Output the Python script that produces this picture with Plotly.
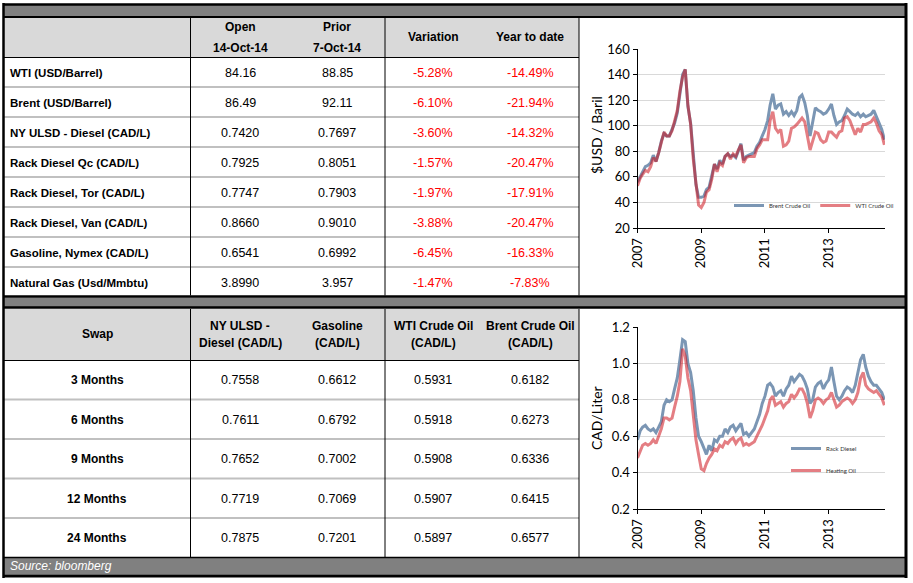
import plotly.graph_objects as go
import pandas as pd

W, H = 913, 583

# ---------------- DATA ----------------
top_header_cols = ["Open<br>14-Oct-14", "Prior<br>7-Oct-14", "Variation", "Year to date"]
top_labels = ["WTI (USD/Barrel)", "Brent (USD/Barrel)", "NY ULSD - Diesel (CAD/L)",
              "Rack Diesel Qc (CAD/L)", "Rack Diesel, Tor (CAD/L)", "Rack Diesel, Van (CAD/L)",
              "Gasoline, Nymex (CAD/L)", "Natural Gas (Usd/Mmbtu)"]
open_vals = ["84.16", "86.49", "0.7420", "0.7925", "0.7747", "0.8660", "0.6541", "3.8990"]
prior_vals = ["88.85", "92.11", "0.7697", "0.8051", "0.7903", "0.9010", "0.6992", "3.957"]
variation = ["-5.28%", "-6.10%", "-3.60%", "-1.57%", "-1.97%", "-3.88%", "-6.45%", "-1.47%"]
year_to_date = ["-14.49%", "-21.94%", "-14.32%", "-20.47%", "-17.91%", "-20.47%", "-16.33%", "-7.83%"]

swap_header_cols = ["Swap", "NY ULSD -<br>Diesel (CAD/L)", "Gasoline<br>(CAD/L)",
                    "WTI Crude Oil<br>(CAD/L)", "Brent Crude Oil<br>(CAD/L)"]
swap_tenors = ["3 Months", "6 Months", "9 Months", "12 Months", "24 Months"]
swap_ulsd = ["0.7558", "0.7611", "0.7652", "0.7719", "0.7875"]
swap_gasoline = ["0.6612", "0.6792", "0.7002", "0.7069", "0.7201"]
swap_wti = ["0.5931", "0.5918", "0.5908", "0.5907", "0.5897"]
swap_brent = ["0.6182", "0.6273", "0.6336", "0.6415", "0.6577"]

source_text = "Source: bloomberg"

months = pd.date_range("2007-01-01", "2014-10-01", freq="MS")

brent_usd = [56, 60, 64, 68, 69, 71, 77, 72, 79, 88, 94, 92,
             92, 97, 102, 110, 126, 140, 144, 115, 102, 76, 54, 44,
             44, 45, 50, 52, 60, 70, 66, 73, 70, 76, 78, 76,
             77, 75, 80, 86, 73, 76, 77, 78, 79, 84, 87, 92,
             97, 104, 116, 125, 113, 116, 117, 109, 111, 108, 111, 108,
             112, 122, 124, 118, 108, 92, 104, 114, 112, 111, 109, 110,
             113, 117, 108, 101, 103, 104, 108, 113, 111, 109, 108, 110,
             107, 109, 107, 108, 109, 112, 107, 102, 97, 89]
wti_usd = [53, 59, 62, 65, 64, 68, 75, 72, 79, 87, 95, 92,
           92, 96, 103, 112, 127, 138, 144, 116, 101, 74, 55, 38,
           36, 40, 48, 50, 58, 70, 64, 71, 69, 76, 78, 74,
           78, 76, 81, 85, 71, 75, 76, 76, 76, 82, 85, 89,
           89, 89, 104, 111, 98, 95, 97, 84, 85, 88, 98, 99,
           101, 104, 106, 103, 93, 81, 88, 95, 94, 89, 87, 88,
           95, 95, 93, 91, 95, 96, 106, 107, 104, 99, 93, 98,
           95, 101, 101, 102, 103, 106, 102, 96, 93, 85]

rack_diesel = [0.58, 0.63, 0.65, 0.66, 0.64, 0.63, 0.64, 0.62, 0.65, 0.68, 0.77, 0.80,
               0.79, 0.80, 0.86, 0.92, 1.02, 1.13, 1.12, 1.00, 0.95, 0.85, 0.70, 0.60,
               0.57, 0.53, 0.50, 0.55, 0.52, 0.58, 0.57, 0.60, 0.60, 0.64, 0.62, 0.65,
               0.66, 0.63, 0.65, 0.67, 0.61, 0.62, 0.60, 0.62, 0.64, 0.68, 0.72, 0.78,
               0.82, 0.88, 0.89, 0.87, 0.82, 0.84, 0.85, 0.82, 0.86, 0.88, 0.93, 0.90,
               0.92, 0.94, 0.93, 0.90, 0.86, 0.78, 0.80, 0.87, 0.89, 0.90, 0.86, 0.89,
               0.91, 0.98, 0.90, 0.82, 0.80, 0.82, 0.85, 0.87, 0.86, 0.84, 0.88, 0.96,
               1.02, 1.05, 0.98, 0.93, 0.90, 0.88, 0.88, 0.86, 0.84, 0.80]
heating_oil = [0.48, 0.52, 0.55, 0.56, 0.55, 0.56, 0.58, 0.56, 0.60, 0.64, 0.70, 0.70,
               0.69, 0.70, 0.76, 0.82, 0.90, 1.08, 1.04, 0.92, 0.85, 0.72, 0.58, 0.50,
               0.42, 0.41, 0.45, 0.48, 0.50, 0.53, 0.52, 0.55, 0.54, 0.57, 0.56, 0.58,
               0.59, 0.56, 0.58, 0.59, 0.55, 0.56, 0.55, 0.56, 0.57, 0.60, 0.63, 0.66,
               0.70, 0.74, 0.80, 0.82, 0.77, 0.78, 0.79, 0.76, 0.78, 0.79, 0.83, 0.81,
               0.83, 0.86, 0.86, 0.83, 0.78, 0.70, 0.74, 0.80, 0.81, 0.80, 0.78, 0.80,
               0.81, 0.84, 0.80, 0.76, 0.77, 0.79, 0.80, 0.81, 0.80, 0.78, 0.80, 0.84,
               0.92, 0.95, 0.88, 0.86, 0.85, 0.84, 0.85, 0.83, 0.81, 0.77]

# ---------------- STYLE / GEOMETRY ----------------
BLUE = "#7b96b4"
RED = "rgba(205,20,30,0.55)"
DARK_BAND = "#808080"
HEAD_FILL = "#d9d9d9"
SEP_GREY = "#c0c0c0"
TFONT = "Liberation Sans, Arial, sans-serif"
CFONT = "Lato, Noto Sans, sans-serif"

def X(px):
    return px / W

def Y(py):
    return 1 - py / H

shapes = []
annotations = []

def rect(x0, y0, x1, y1, color):
    shapes.append(dict(type="rect", xref="paper", yref="paper", x0=X(x0), x1=X(x1),
                       y0=Y(y1), y1=Y(y0), fillcolor=color, line=dict(width=0), layer="below"))

def hline(x0, x1, y, color, w):
    shapes.append(dict(type="line", xref="paper", yref="paper", x0=X(x0), x1=X(x1),
                       y0=Y(y), y1=Y(y), line=dict(color=color, width=w)))

def vline(x, y0, y1, color, w):
    shapes.append(dict(type="line", xref="paper", yref="paper", x0=X(x), x1=X(x),
                       y0=Y(y0), y1=Y(y1), line=dict(color=color, width=w)))

def text(x, y, s, size=12, color="black", anchor="center", italic=False):
    annotations.append(dict(xref="paper", yref="paper", x=X(x), y=Y(y), text=s,
                            showarrow=False, xanchor=anchor, yanchor="middle",
                            font=dict(family=TFONT, size=size, color=color,
                                      style="italic" if italic else "normal"),
                            align="center"))

L, R, TR = 4, 906, 579
col_edges = [L, 190.5, 385, TR]
val_centers = [240, 337, 433, 530]

# top band
rect(L, 5, R, 17, DARK_BAND)
hline(L, R, 17, "black", 2)
# top table header
rect(L, 18, TR, 57, HEAD_FILL)
top_row0, top_rh = 57, 30
top_bottom = top_row0 + top_rh * len(top_labels) - 1.5
hline(L, TR, 57.5, "black", 1)
for i in range(1, len(top_labels)):
    hline(L, TR, top_row0 + top_rh * i, SEP_GREY, 2)
for xe in col_edges[1:]:
    vline(xe, 18, top_bottom, "black", 1)

# middle band
hline(L, R, top_bottom + 1, "black", 2.5)
rect(L, top_bottom + 2, R, 307, DARK_BAND)
hline(L, R, 307.5, "black", 2.5)

# swap table
rect(L, 309, TR, 360, HEAD_FILL)
bot_row0, bot_rh = 360, 39.5
bot_bottom = 557.5
hline(L, TR, 360.5, "black", 1)
for i in range(1, len(swap_tenors)):
    hline(L, TR, bot_row0 + bot_rh * i, SEP_GREY, 2)
for xe in col_edges[1:]:
    vline(xe, 309, bot_bottom, "black", 1)
hline(L, R, bot_bottom, "black", 1.5)
rect(L, 558, R, 574.5, DARK_BAND)

# outer border
vline(L - 0.5, 3, 578, "black", 2.5)
hline(L - 1, R + 1, 4.5, "black", 2.5)
vline(R, 3, 578, "black", 3)
hline(L - 1, R + 1, 576, "black", 3)

# top table texts
text(val_centers[0], 27, "<b>Open</b>", 12)
text(val_centers[0], 48, "<b>14-Oct-14</b>", 12)
text(val_centers[1], 27, "<b>Prior</b>", 12)
text(val_centers[1], 48, "<b>7-Oct-14</b>", 12)
text(val_centers[2], 37, "<b>Variation</b>", 12)
text(val_centers[3], 37, "<b>Year to date</b>", 12)
for i, lab in enumerate(top_labels):
    yc = top_row0 + top_rh * i + 15.5
    text(8, yc, "<b>" + lab + "</b>", 11.5, anchor="left")
    text(val_centers[0], yc, open_vals[i], 12.5)
    text(val_centers[1], yc, prior_vals[i], 12.5)
    text(val_centers[2], yc, variation[i], 12.5, color="#ff0000")
    text(val_centers[3], yc, year_to_date[i], 12.5, color="#ff0000")

# swap table texts
hdr_x = [97] + val_centers
for j, h in enumerate(swap_header_cols):
    parts = h.split("<br>")
    if len(parts) == 1:
        text(hdr_x[j], 334, "<b>" + parts[0] + "</b>", 12)
    else:
        text(hdr_x[j], 326, "<b>" + parts[0] + "</b>", 12)
        text(hdr_x[j], 343, "<b>" + parts[1] + "</b>", 12)
for i, t in enumerate(swap_tenors):
    yc = bot_row0 + bot_rh * i + 20
    text(97, yc, "<b>" + t + "</b>", 12)
    text(val_centers[0], yc, swap_ulsd[i], 12.5)
    text(val_centers[1], yc, swap_gasoline[i], 12.5)
    text(val_centers[2], yc, swap_wti[i], 12.5)
    text(val_centers[3], yc, swap_brent[i], 12.5)

text(8, 566, source_text, 12, color="white", anchor="left", italic=True)

# axis titles
annotations.append(dict(xref="paper", yref="paper", x=X(596), y=Y(135), text="$USD / Baril",
                        textangle=-90, showarrow=False, xanchor="center", yanchor="middle",
                        font=dict(family=CFONT, size=14, color="black")))
annotations.append(dict(xref="paper", yref="paper", x=X(596), y=Y(418), text="CAD/Liter",
                        textangle=-90, showarrow=False, xanchor="center", yanchor="middle",
                        font=dict(family=CFONT, size=14, color="black")))

# ---------------- CHARTS ----------------
fig = go.Figure()
fig.add_trace(go.Scatter(x=months, y=brent_usd, mode="lines", name="Brent Crude Oil",
                         line=dict(color=BLUE, width=3), xaxis="x", yaxis="y", legend="legend"))
fig.add_trace(go.Scatter(x=months, y=wti_usd, mode="lines", name="WTI Crude Oil",
                         line=dict(color=RED, width=3), xaxis="x", yaxis="y", legend="legend"))
fig.add_trace(go.Scatter(x=months, y=rack_diesel, mode="lines", name="Rack Diesel",
                         line=dict(color=BLUE, width=3), xaxis="x2", yaxis="y2",
                         legend="legend2", legendgroup="a"))
fig.add_trace(go.Scatter(x=months, y=heating_oil, mode="lines", name="Heating Oil",
                         line=dict(color=RED, width=3), xaxis="x2", yaxis="y2",
                         legend="legend2", legendgroup="b"))

xcommon = dict(type="date", range=["2007-01-01", "2014-10-08"], tick0="2007-01-01", dtick="M24",
               tickformat="%Y", tickangle=-90, showgrid=False, showline=True, linecolor="black",
               linewidth=1, ticks="outside", ticklen=4, tickcolor="black",
               tickfont=dict(family=CFONT, size=13, color="black"), zeroline=False)
ycommon = dict(showgrid=True, gridcolor="#d9d9d9", gridwidth=1, showline=True, linecolor="black",
               linewidth=1, ticks="outside", ticklen=4, tickcolor="black", zeroline=False,
               tickfont=dict(family=CFONT, size=13, color="black"))

fig.update_layout(
    width=W, height=H, margin=dict(l=0, r=0, t=0, b=0, pad=0, autoexpand=False),
    paper_bgcolor="white", plot_bgcolor="white",
    xaxis=dict(domain=[X(637.5), X(885)], anchor="y", **xcommon),
    yaxis=dict(domain=[Y(228), Y(49)], anchor="x", range=[20, 160], dtick=20, **ycommon),
    xaxis2=dict(domain=[X(637.5), X(885)], anchor="y2", **xcommon),
    yaxis2=dict(domain=[Y(509), Y(327)], anchor="x2", range=[0.2, 1.2], dtick=0.2,
                tickformat=".1f", **ycommon),
    legend=dict(orientation="h", x=X(729), y=Y(205.5), xanchor="left", yanchor="middle",
                bgcolor="rgba(0,0,0,0)", font=dict(family=CFONT, size=6, color="#333333"),
                itemwidth=30),
    legend2=dict(orientation="v", x=X(786), y=Y(434), xanchor="left", yanchor="top",
                 bgcolor="rgba(0,0,0,0)", font=dict(family=CFONT, size=6, color="#333333"),
                 itemwidth=30, traceorder="grouped", tracegroupgap=3),
    shapes=shapes, annotations=annotations, showlegend=True,
)

fig.write_html("out.html", config={"displayModeBar": False},
               post_script="document.body.style.margin='0';document.body.style.overflow='hidden';")
